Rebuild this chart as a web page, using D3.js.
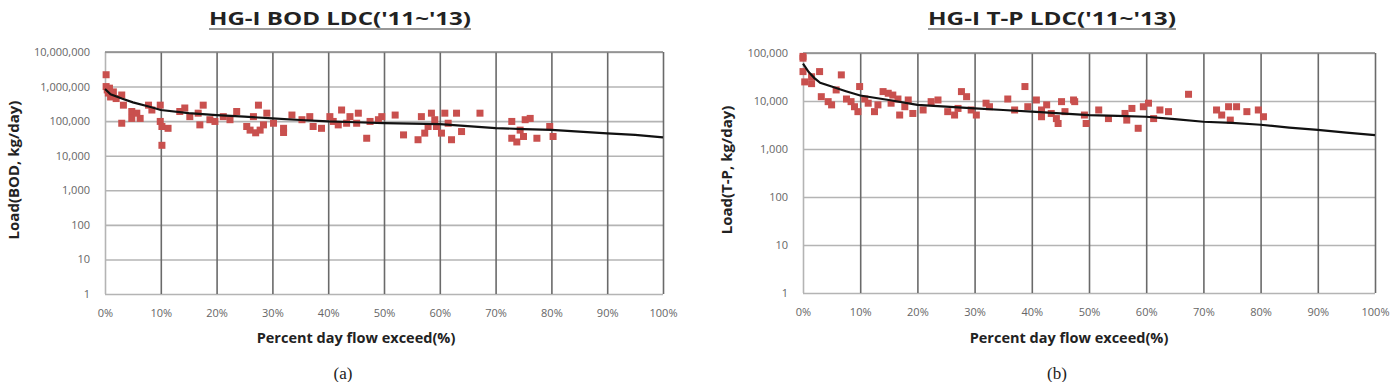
<!DOCTYPE html>
<html>
<head>
<meta charset="utf-8">
<script src="https://cdn.jsdelivr.net/npm/d3@7"></script>
<style>
    body { margin: 0; background: #fff; }
    svg { display: block; }
    .title { font-family: "Open Sans", "Noto Sans", sans-serif; font-weight: bold; fill: #222; }
    .axisTitle { font-family: "Open Sans", "Noto Sans", sans-serif; font-weight: bold; fill: #222; }
    .tick text { font-family: "Open Sans", "Noto Sans", sans-serif; fill: #666; }
    .caption { font-family: "Liberation Serif", serif; fill: #222; }
</style>
</head>
<body>
<svg id="chart" width="1390" height="382"></svg>
<script>
// percent exceedance ticks
const xTicks = [0, 10, 20, 30, 40, 50, 60, 70, 80, 90, 100];
const bodTicks = [1, 10, 100, 1000, 10000, 100000, 1000000, 10000000];
const tpTicks = [1, 10, 100, 1000, 10000, 100000];

// BOD load duration curve [percent, kg/day]
const bodCurve = [
    [0, 8.5e5], [1, 6e5], [3, 4.5e5], [5, 3.5e5], [8, 2.6e5], [10, 2.1e5], [15, 1.7e5],
    [20, 1.5e5], [25, 1.35e5], [30, 1.2e5], [35, 1.08e5], [40, 9.8e4], [45, 9.3e4],
    [50, 8.8e4], [55, 8.5e4], [60, 8.2e4], [65, 7.2e4], [70, 6.3e4], [75, 5.9e4],
    [80, 5.6e4], [85, 5e4], [90, 4.4e4], [95, 4e4], [100, 3.4e4]
];

// BOD observed loads [percent, kg/day]
const bodPoints = [
    [0.2, 2.2e6], [0.2, 1.0e6], [0.4, 8e5], [0.6, 6.5e5], [0.8, 9e5], [1, 5e5], [1.5, 7e5],
    [2, 4.5e5], [3, 5.7e5], [3, 8.7e4], [3.3, 2.9e5], [4.8, 1.9e5], [4.8, 1.2e5], [5.7, 1.7e5],
    [6.3, 1.2e5], [7.8, 2.9e5], [8.4, 2.1e5], [9.9, 2.9e5], [9.9, 9.8e4], [10.2, 7e4],
    [10.2, 2.0e4], [11.3, 6.2e4], [13.4, 1.9e5], [14.3, 2.4e5], [15.2, 1.35e5], [16.7, 1.7e5],
    [17, 7.8e4], [17.6, 2.9e5], [18.8, 1.1e5], [19.7, 9.8e4], [21.2, 1.35e5], [22.4, 1.1e5],
    [23.6, 1.9e5], [25.4, 7e4], [26, 5.5e4], [26.6, 1.35e5], [27, 4.6e4], [27.5, 2.9e5],
    [27.8, 5.5e4], [28.4, 7.8e4], [29, 1.7e5], [30.2, 8.7e4], [32, 6.2e4], [32, 4.7e4],
    [33.5, 1.5e5], [35.3, 1.1e5], [36.7, 1.35e5], [37.3, 7e4], [38.8, 6.2e4], [40.3, 1.35e5],
    [40.9, 9.8e4], [41.8, 7.8e4], [42.4, 2.1e5], [43.3, 8.7e4], [43.9, 1.35e5], [45.1, 8.7e4],
    [45.4, 1.7e5], [46.9, 3.2e4], [47.5, 9.8e4], [49, 1.1e5], [49.6, 1.35e5], [52, 1.5e5],
    [53.5, 4e4], [56.1, 2.9e4], [56.7, 1.35e5], [57.3, 4.5e4], [57.9, 7e4], [58.5, 1.7e5],
    [59.1, 1.1e5], [59.4, 7e4], [60.3, 4.5e4], [60.9, 1.7e5], [61.5, 8.7e4], [62.1, 2.9e4],
    [63, 1.7e5], [63.9, 5e4], [67.2, 1.7e5], [72.9, 9.8e4], [72.9, 3.2e4], [73.8, 2.5e4],
    [74.4, 5.5e4], [75, 3.6e4], [75.3, 1.1e5], [76.2, 1.2e5], [77.4, 3.2e4], [79.7, 7e4],
    [80.3, 3.6e4]
];

// T-P load duration curve [percent, kg/day]
const tpCurve = [
    [0, 6e4], [1, 4e4], [2, 3e4], [3, 2.4e4], [5, 2e4], [7.5, 1.6e4], [10, 1.3e4],
    [15, 1.05e4], [20, 8.3e3], [25, 7.6e3], [30, 7e3], [35, 6.5e3], [40, 6e3], [45, 5.5e3],
    [50, 5.1e3], [55, 4.9e3], [60, 4.7e3], [65, 4.2e3], [70, 3.7e3], [75, 3.5e3],
    [80, 3.2e3], [85, 2.8e3], [90, 2.5e3], [95, 2.2e3], [100, 1.95e3]
];

// T-P observed loads [percent, kg/day]
const tpPoints = [
    [0, 8.5e4], [0, 7.8e4], [0, 4.1e4], [0.3, 2.5e4], [1.5, 3.2e4], [1.5, 2.3e4], [2.9, 4.1e4],
    [3.2, 1.23e4], [4.4, 9.7e3], [5, 8.3e3], [5.8, 1.7e4], [6.7, 3.5e4], [7.6, 1.1e4],
    [8.4, 9.7e3], [9, 7.6e3], [9.6, 6e3], [9.9, 2e4], [10.8, 1.1e4], [11.4, 9e3], [12.5, 6e3],
    [13.1, 8.3e3], [14, 1.57e4], [14.9, 1.45e4], [15.4, 9e3], [15.7, 1.33e4], [16.6, 1.1e4],
    [16.9, 5.1e3], [17.8, 7.6e3], [18.4, 1.05e4], [19.2, 5.5e3], [21, 6.5e3], [22.4, 9.7e3],
    [23.6, 1.05e4], [25.3, 6e3], [26.5, 5.1e3], [27.1, 7e3], [27.7, 1.57e4], [28.6, 1.23e4],
    [29.4, 6.5e3], [30.3, 5.1e3], [32, 9e3], [32.6, 7.6e3], [35.8, 1.1e4], [37, 6.5e3],
    [38.8, 2e4], [39.3, 7.6e3], [40.8, 1.05e4], [41.7, 6.5e3], [41.7, 4.7e3], [42.6, 8.3e3],
    [43.4, 5.5e3], [44.3, 4.3e3], [44.6, 3.4e3], [45.2, 9.7e3], [45.8, 6e3], [47.3, 1.05e4],
    [47.5, 9.7e3], [49.2, 5.1e3], [49.5, 3.4e3], [51.7, 6.5e3], [53.4, 4.3e3], [56.3, 5.5e3],
    [56.6, 4e3], [57.5, 7e3], [58.6, 2.7e3], [59.5, 7.6e3], [60.4, 9e3], [61.3, 4.3e3],
    [62.4, 6.5e3], [63.9, 6e3], [67.4, 1.38e4], [72.3, 6.5e3], [73.2, 5.1e3], [74.4, 7.6e3],
    [74.7, 4e3], [75.8, 7.6e3], [77.6, 6e3], [79.6, 6.5e3], [80.5, 4.7e3]
];

const svg = d3.select("#chart");

function getPanelConfigs() {
    return [
        {
            title: "HG-I BOD LDC('11~'13)", titleX: 340, titleLen: 262,
            yLabel: "Load(BOD, kg/day)", yLabelX: 19,
            caption: "(a)", captionX: 343, xTitleX: 356,
            left: 105, right: 663, top: 52, bottom: 294,
            yTicks: bodTicks, curve: bodCurve, points: bodPoints
        },
        {
            title: "HG-I T-P LDC('11~'13)", titleX: 1052, titleLen: 248,
            yLabel: "Load(T-P, kg/day)", yLabelX: 732,
            caption: "(b)", captionX: 1057, xTitleX: 1069,
            left: 803, right: 1375, top: 53, bottom: 293,
            yTicks: tpTicks, curve: tpCurve, points: tpPoints
        }
    ]
}

function getScales(config) {
    let xScale = d3.scaleLinear()
        .domain([0, 100])
        .range([config.left, config.right])

    let yScale = d3.scaleLog()
        .domain(d3.extent(config.yTicks))
        .range([config.bottom, config.top])

    return { xScale, yScale }
}

function drawGrid(g, scales, config) {
    let { xScale, yScale } = scales
    let fmt = d3.format(",")

    // horizontal grid via y axis
    let axisY = d3.axisLeft(yScale)
        .tickValues(config.yTicks)
        .tickFormat(fmt)
        .tickSize(-(config.right - config.left))
        .tickPadding(15)

    let gy = g.append("g")
        .attr("transform", `translate(${config.left},0)`)
        .call(axisY)
    gy.select(".domain").remove()
    gy.selectAll(".tick line")
        .attr("stroke", "#b4b4b4")
        .attr("stroke-width", 1.6)
    gy.selectAll(".tick text").style("font-size", "11px")

    // vertical grid via x axis
    let axisX = d3.axisBottom(xScale)
        .tickValues(xTicks)
        .tickFormat(d => d + "%")
        .tickSize(-(config.bottom - config.top))
        .tickPadding(15)

    let gx = g.append("g")
        .attr("transform", `translate(0,${config.bottom})`)
        .call(axisX)
    gx.select(".domain").remove()
    gx.selectAll(".tick line")
        .attr("stroke", d => d === 0 ? "#b4b4b4" : "#6a6a6a")
        .attr("stroke-width", 1.6)
    gx.selectAll(".tick text").style("font-size", "11px")

    // top border
    g.append("line")
        .attr("x1", config.left).attr("x2", config.right)
        .attr("y1", config.top).attr("y2", config.top)
        .attr("stroke", "#8a8a8a")
        .attr("stroke-width", 1.6)
}

function drawData(g, scales, config) {
    let { xScale, yScale } = scales
    let size = 7

    g.append("g").selectAll("rect")
        .data(config.points)
        .enter()
        .append("rect")
        .attr("x", d => xScale(d[0]) - size / 2)
        .attr("y", d => yScale(d[1]) - size / 2)
        .attr("width", size)
        .attr("height", size)
        .attr("fill", "#c9504e")

    let lineGenerator = d3.line()
        .x(d => xScale(d[0]))
        .y(d => yScale(d[1]))

    g.append("path")
        .datum(config.curve)
        .attr("d", lineGenerator)
        .attr("fill", "none")
        .attr("stroke", "#111")
        .attr("stroke-width", 2.2)
}

function drawLabels(g, config) {
    g.append("text")
        .attr("class", "title")
        .attr("x", config.titleX)
        .attr("y", 25)
        .attr("text-anchor", "middle")
        .attr("textLength", config.titleLen)
        .attr("lengthAdjust", "spacingAndGlyphs")
        .style("font-size", "18px")
        .text(config.title)

    g.append("line")
        .attr("x1", config.titleX - config.titleLen / 2)
        .attr("x2", config.titleX + config.titleLen / 2)
        .attr("y1", 29).attr("y2", 29)
        .attr("stroke", "#333")
        .attr("stroke-width", 1.2)

    g.append("text")
        .attr("class", "axisTitle")
        .attr("x", config.xTitleX)
        .attr("y", 343)
        .attr("text-anchor", "middle")
        .style("font-size", "14.5px")
        .text("Percent day flow exceed(%)")

    g.append("text")
        .attr("class", "axisTitle")
        .attr("transform", `translate(${config.yLabelX},${(config.top + config.bottom) / 2 - 3}) rotate(-90)`)
        .attr("text-anchor", "middle")
        .style("font-size", "15px")
        .text(config.yLabel)

    g.append("text")
        .attr("class", "caption")
        .attr("x", config.captionX)
        .attr("y", 379)
        .attr("text-anchor", "middle")
        .style("font-size", "17px")
        .text(config.caption)
}

function drawPanel(config) {
    let g = svg.append("g")
    let scales = getScales(config)
    drawGrid(g, scales, config)
    drawData(g, scales, config)
    drawLabels(g, config)
}

getPanelConfigs().forEach(drawPanel)
</script>
</body>
</html>
